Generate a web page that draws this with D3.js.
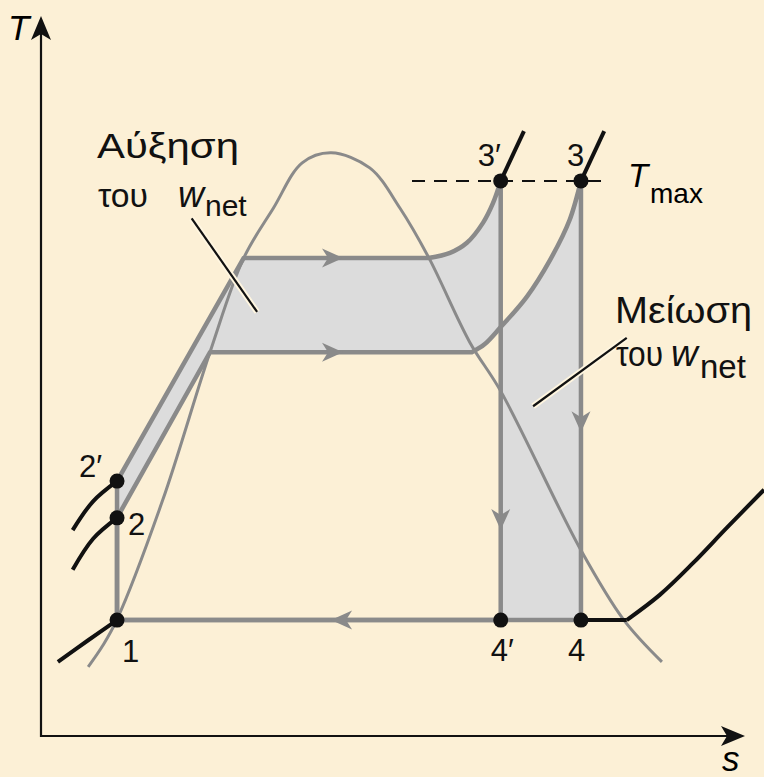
<!DOCTYPE html>
<html>
<head>
<meta charset="utf-8">
<script src="https://cdn.jsdelivr.net/npm/d3@7"></script>
<style>
  body { margin: 0; background: #fcf0d6; }
  svg { display: block; }
</style>
</head>
<body>
<div id="ts-diagram"></div>
<script>
// T-s diagram, Rankine cycle 1-2-3-4 vs higher boiler pressure 1-2'-3'-4'
// all values in (s, T) diagram units

const dome = [[0.67, 0.96], [0.88, 1.26], [1.08, 1.62], [1.73, 3.28], [2.40, 5.33], [2.88, 6.64],
  [3.30, 7.33], [3.71, 7.96], [4.12, 8.10], [4.67, 7.89], [5.10, 7.33], [5.51, 6.64],
  [6.09, 5.47], [6.53, 4.79], [7.67, 2.58], [8.28, 1.61], [8.82, 1.03]];

const stateNames = ["1", "2", "2′", "3", "3′", "4", "4′"];
const stateS = [1.08, 1.08, 1.08, 7.67, 6.53, 7.67, 6.53];
const stateT = [1.61, 3.03, 3.54, 7.71, 7.71, 1.61, 1.61];

// boiler, low pressure: liquid end of plateau, then superheat curve up to 3
const boilLowStart = [2.40, 5.33];
const superLow = [[6.12, 5.33], [6.30, 5.44], [6.53, 5.68], [6.90, 6.10], [7.23, 6.61], [7.51, 7.17], [7.67, 7.71]];
// boiler, high pressure, up to 3'
const boilHighStart = [2.88, 6.64];
const superHigh = [[5.51, 6.64], [5.81, 6.71], [6.05, 6.85], [6.28, 7.13], [6.42, 7.40], [6.53, 7.71]];

// black isobar stubs
const isobar2p = [[1.08, 3.54], [0.74, 3.26], [0.45, 2.86]];
const isobar2 = [[1.08, 3.03], [0.74, 2.74], [0.45, 2.31]];
const isobar1 = [[1.08, 1.61], [0.67, 1.33], [0.24, 1.03]];
const isobar3p = [[6.53, 7.71], [6.86, 8.40]];
const isobar3 = [[7.67, 7.71], [8.00, 8.40]];
const condWet = [[7.67, 1.61], [8.32, 1.61]];
const condSuper = [[8.32, 1.61], [8.79, 1.96], [9.26, 2.40], [9.74, 2.89], [10.27, 3.42]];

const Tmax = 7.71;
const tmaxRange = [5.27, 8.08];

// arrow tips: s, T, direction in degrees (0 = right, 90 = down)
const arrows = [[4.29, 5.33, 0], [4.29, 6.64, 0], [7.67, 4.22, 90], [6.53, 2.86, 90], [4.12, 1.61, 180]];

// leader lines for the two notes
const leaderUp = [[2.14, 7.19], [3.07, 5.89]];
const leaderDown = [[8.32, 5.53], [6.99, 4.58]];

const width = 764, height = 777;
const gray = "#8a8a8a", fillGray = "#dcdcdc", ink = "#111";
const font = "'Liberation Sans', Arial, sans-serif";

const svg = d3.select("#ts-diagram")
  .append("svg")
  .attr("width", width)
  .attr("height", height);

svg.append("rect").attr("width", width).attr("height", height).attr("fill", "#fcf0d6");

const x = d3.scaleLinear().domain([0, 10]).range([41, 745]);
const y = d3.scaleLinear().domain([0, 10]).range([736, 16]);

const lin = d3.line().x(d => x(d[0])).y(d => y(d[1]));
const smooth = d3.line().x(d => x(d[0])).y(d => y(d[1])).curve(d3.curveCatmullRom.alpha(0.5));

const st = i => [stateS[i], stateT[i]];
const joinParts = parts => parts.map((p, i) => i ? p.replace(/^M/, "L") : p).join("") + "Z";

// closed cycle outlines
const lowCycle = joinParts([lin([st(0), st(1), boilLowStart]), smooth(superLow), lin([st(3), st(5)])]);
const highCycle = joinParts([lin([st(0), st(2), boilHighStart]), smooth(superHigh), lin([st(4), st(6)])]);

/* shaded areas = difference of the two cycles */
svg.append("path")
  .attr("d", lowCycle + highCycle)
  .attr("fill", fillGray)
  .attr("fill-rule", "evenodd");

/* saturation dome */
svg.append("path")
  .attr("d", smooth(dome))
  .attr("fill", "none")
  .attr("stroke", gray)
  .attr("stroke-width", 3);

/* cycle lines */
svg.selectAll(".cycle")
  .data([lowCycle, highCycle])
  .enter()
  .append("path")
  .attr("d", d => d)
  .attr("fill", "none")
  .attr("stroke", gray)
  .attr("stroke-width", 4.5)
  .attr("stroke-linejoin", "round");

svg.selectAll(".arrow")
  .data(arrows)
  .enter()
  .append("path")
  .attr("d", "M0,0L-21,-9.5L-15,0L-21,9.5Z")
  .attr("transform", d => `translate(${x(d[0])},${y(d[1])}) rotate(${d[2]})`)
  .attr("fill", gray);

/* Tmax */
svg.append("line")
  .attr("x1", x(tmaxRange[0])).attr("x2", x(tmaxRange[1]))
  .attr("y1", y(Tmax)).attr("y2", y(Tmax))
  .attr("stroke", ink)
  .attr("stroke-width", 2)
  .attr("stroke-dasharray", "13,9");

/* isobars in black */
svg.selectAll(".isobar")
  .data([isobar2p, isobar2, isobar1, isobar3p, isobar3, condSuper])
  .enter()
  .append("path")
  .attr("d", d => smooth(d))
  .attr("fill", "none")
  .attr("stroke", ink)
  .attr("stroke-width", 4);
svg.append("path")
  .attr("d", lin(condWet))
  .attr("stroke", ink)
  .attr("stroke-width", 4);

svg.selectAll(".state")
  .data(stateNames)
  .enter()
  .append("circle")
  .attr("cx", (d, i) => x(stateS[i]))
  .attr("cy", (d, i) => y(stateT[i]))
  .attr("r", 7.5)
  .attr("fill", ink);

// label offsets from the state points
const labelDx = [5, 11, -38, -14, -23, -13, -10];
const labelDy = [42, 17, -4, -15, -15, 41, 41];
svg.selectAll(".state-label")
  .data(stateNames)
  .enter()
  .append("text")
  .attr("x", (d, i) => x(stateS[i]) + labelDx[i])
  .attr("y", (d, i) => y(stateT[i]) + labelDy[i])
  .attr("font-family", font)
  .attr("font-size", 31)
  .attr("fill", ink)
  .text(d => d);

/* leader lines with a light halo */
[leaderUp, leaderDown].forEach(l => {
  svg.append("path").attr("d", lin(l)).attr("stroke", "#fff6e0").attr("stroke-width", 6).attr("fill", "none");
  svg.append("path").attr("d", lin(l)).attr("stroke", ink).attr("stroke-width", 2.2).attr("fill", "none");
});

// note: word + "του w_net" underneath
function note(word, wordX, wordY, wordW, size, touX, touY, touW, wX, netX, netDy, netSize) {
  const g = svg.append("g").attr("font-family", font).attr("fill", ink);
  g.append("text").attr("x", wordX).attr("y", wordY).attr("font-size", size)
    .attr("textLength", wordW).attr("lengthAdjust", "spacingAndGlyphs").text(word);
  g.append("text").attr("x", touX).attr("y", touY).attr("font-size", size - 1)
    .attr("textLength", touW).attr("lengthAdjust", "spacingAndGlyphs").text("του");
  g.append("text").attr("x", wX).attr("y", touY).attr("font-size", size + 1)
    .attr("font-style", "italic").text("w");
  g.append("text").attr("x", netX).attr("y", touY + netDy).attr("font-size", netSize).text("net");
}
note("Αύξηση", 97, 158, 142, 35, 98, 207, 50, 178, 205, 9, 30);
note("Μείωση", 615, 323, 137, 36, 616, 366, 47, 671, 700, 12, 33);

svg.append("text").attr("x", 628).attr("y", 187).attr("font-family", font).attr("font-size", 33)
  .attr("font-style", "italic").text("T");
svg.append("text").attr("x", 650).attr("y", 203).attr("font-family", font).attr("font-size", 28).text("max");

/* axes */
svg.append("path")
  .attr("d", `M${x(0)},${y(10) + 18}V${y(0)}H${x(10) - 18}`)
  .attr("fill", "none")
  .attr("stroke", ink)
  .attr("stroke-width", 2.2);
const head = "M0,0L-10,-24L0,-18L10,-24Z";
svg.append("path").attr("d", head).attr("transform", `translate(${x(0)},${y(10)}) rotate(180)`).attr("fill", ink);
svg.append("path").attr("d", head).attr("transform", `translate(${x(10)},${y(0)}) rotate(-90)`).attr("fill", ink);

svg.append("text").attr("x", 8).attr("y", 40).attr("font-family", font).attr("font-size", 35)
  .attr("font-style", "italic").text("T");
svg.append("text").attr("x", 722).attr("y", 771).attr("font-family", font).attr("font-size", 35)
  .attr("font-style", "italic").text("s");
</script>
</body>
</html>
